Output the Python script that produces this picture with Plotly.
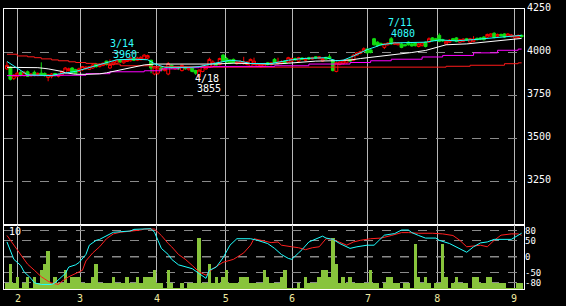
import plotly.graph_objects as go

# ---------------- data ----------------
day_idx = list(range(151))

opens = [3905,3915,3850,3862,3885,3868,3888,3865,3885,3866,
 3880,3878,3855,3860,3878,3862,3870,3880,3895,3910,
 3900,3890,3900,3905,3902,3910,3932,3918,3925,3950,
 3910,3930,3938,3955,3940,3948,3952,3965,3955,3958,
 3962,3968,3955,3875,3880,3912,3895,3875,3925,3905,
 3915,3895,3915,3900,3910,3895,3860,3890,3905,3915,
 3920,3935,3930,3985,3965,3955,3960,3935,3938,3935,
 3930,3920,3930,3920,3918,3920,3940,3930,3960,3935,
 3938,3950,3945,3950,3965,3950,3968,3955,3970,3962,
 3975,3965,3950,3972,3975,3955,3890,3930,3935,3940,
 3960,3955,3985,3995,4008,4020,4015,4080,4060,4052,
 4030,4045,4080,4048,4045,4050,4045,4060,4050,4055,
 4035,4040,4060,4060,4085,4080,4100,4075,4050,4060,
 4080,4085,4060,4065,4080,4060,4065,4082,4085,4090,
 4090,4095,4112,4095,4105,4108,4095,4092,4085,4088,
 4100]
highs = [3947,3920,3875,3888,3892,3893,3895,3880,3895,3885,
 3943,3885,3875,3880,3882,3878,3895,3915,3912,3915,
 3905,3912,3922,3920,3922,3933,3938,3936,3942,3952,
 3960,3950,3958,3960,3960,3965,3972,3970,3975,3978,
 3990,3988,3958,3920,3918,3918,3910,3945,3930,3920,
 3920,3930,3920,3915,3915,3900,3902,3925,3920,3970,
 3955,3940,3970,3992,3975,3960,3965,3950,3955,3975,
 3950,3965,3970,3940,3938,3940,3945,3945,3968,3970,
 3955,3955,3975,3970,3970,3975,3972,3970,3975,3975,
 3978,3978,3970,3975,3990,3960,3945,3950,3958,3962,
 3965,3990,4003,4010,4030,4025,4020,4085,4065,4058,
 4055,4060,4090,4062,4060,4055,4050,4065,4055,4060,
 4055,4060,4065,4088,4090,4085,4112,4080,4070,4078,
 4085,4090,4080,4082,4085,4085,4095,4088,4090,4095,
 4110,4112,4118,4110,4110,4112,4112,4108,4102,4105,
 4104]
lows = [3900,3838,3840,3855,3862,3860,3858,3860,3862,3862,
 3865,3860,3833,3850,3860,3855,3865,3875,3890,3880,
 3875,3885,3893,3900,3898,3905,3912,3914,3920,3925,
 3905,3925,3932,3940,3935,3945,3948,3950,3950,3955,
 3958,3962,3880,3868,3870,3890,3890,3868,3905,3900,
 3898,3890,3900,3895,3885,3870,3855,3885,3900,3910,
 3915,3925,3925,3945,3938,3935,3935,3930,3932,3930,
 3925,3915,3925,3915,3912,3915,3925,3925,3938,3930,
 3932,3935,3940,3945,3952,3945,3955,3950,3958,3958,
 3964,3960,3945,3958,3960,3890,3885,3925,3930,3935,
 3945,3950,3980,3990,4005,3995,3995,4040,4033,4040,
 4020,4040,4045,4044,4042,4025,4035,4040,4035,4035,
 4030,4035,4030,4055,4065,4065,4060,4062,4045,4055,
 4065,4060,4055,4060,4068,4055,4060,4070,4072,4070,
 4085,4090,4082,4090,4092,4085,4090,4088,4080,4085,
 4088]
closes = [3925,3845,3868,3880,3870,3885,3862,3875,3866,3878,
 3870,3866,3870,3875,3868,3872,3890,3910,3905,3885,
 3880,3905,3918,3915,3918,3928,3918,3932,3938,3930,
 3930,3945,3955,3945,3955,3960,3968,3955,3968,3972,
 3985,3982,3910,3915,3910,3898,3905,3935,3910,3915,
 3905,3925,3905,3910,3890,3880,3898,3920,3915,3960,
 3945,3928,3965,3950,3945,3940,3942,3945,3948,3945,
 3945,3960,3950,3935,3932,3935,3930,3940,3942,3945,
 3948,3940,3970,3965,3958,3970,3960,3965,3962,3970,
 3968,3975,3965,3962,3965,3895,3940,3945,3950,3958,
 3950,3985,3998,4005,4022,3998,4000,4045,4040,4045,
 4050,4055,4050,4058,4055,4030,4040,4045,4038,4040,
 4050,4055,4035,4080,4070,4070,4065,4068,4065,4072,
 4070,4065,4075,4078,4072,4080,4078,4075,4078,4075,
 4105,4108,4088,4105,4098,4090,4108,4102,4098,4100,
 4092]
volumes = [1,4,1,2,0.3,1,2,0.3,2,1,
 3,4,6,1,2,1,1,3,1,2,
 2,2,1,1,1,2,4,1,1,1,
 1,2,1,1,1,2,1,1,2,1,
 2,2,2,3,1,1,0.3,3,1,0.3,
 0.3,1,0.3,1,1,1,8,1,1,4,
 1,2,1,2,3,1,1,1,2,2,
 2,1,1,1,1,3,2,1,1,1,
 2,3,0.3,0.3,0.3,1,0.3,2,1,1,
 1,2,3,3,2,8,4,1,2,1,
 2,1,1,1,1,1,3,1,1,0.3,
 1,2,2,1,1,0.3,1,1,0.3,7,
 2,1,2,1,0.3,1,1,7,2,0.3,
 1,2,1,1,1,0.3,2,2,1,1,
 2,2,1,1,1,1,0.3,0.3,0.3,1,
 1]

# moving averages (read at sample days)
ma_cyan_idx = [0,2,4,6,13,15,20,25,28,32,37,41,43,46,53,56,60,62,65,68,71,77,79,82,86,90,93,96,98,101,103,105,107,109,113,122,126,131,136,142,147,150]
ma_cyan_val = [3948,3923,3895,3870,3866,3875,3890,3918,3938,3958,3961,3958,3935,3914,3914,3918,3935,3942,3955,3950,3936,3936,3945,3955,3965,3970,3970,3952,3955,3980,4000,4017,4030,4045,4056,4060,4073,4068,4075,4085,4097,4100]
ma_white_idx = [0,9,12,14,16,17,20,23,27,29,31,34,37,40,43,60,66,70,78,82,86,90,95,100,103,106,109,114,118,122,125,128,134,139,145,148,150]
ma_white_val = [3914,3912,3905,3898,3890,3882,3874,3873,3876,3882,3890,3905,3915,3928,3933,3933,3938,3936,3933,3938,3946,3950,3952,3956,3965,3972,3980,3988,4000,4012,4030,4045,4050,4060,4072,4078,4082]
ma_magenta_idx = [0,15,23,30,40,45,50,56,60,78,88,100,106,112,121,127,136,143,149,150]
ma_magenta_val = [3866,3868,3877,3888,3894,3905,3912,3915,3918,3923,3933,3942,3952,3961,3974,3983,3998,4013,4020,4020]
ma_red_idx = [0,3,6,8,10,13,15,18,20,23,26,33,42,60,128,135,145,149,150]
ma_red_val = [3990,3980,3975,3970,3963,3957,3952,3946,3942,3937,3933,3923,3918,3915,3920,3926,3935,3940,3940]

# oscillator lines (lower panel)
osc_cyan_idx = [0,1,2,4,5,7,8,10,13,14,15,17,18,20,21,23,24,26,27,29,30,31,36,37,42,43,44,45,47,48,50,52,54,56,58,59,61,63,65,67,71,73,76,78,80,82,83,85,86,88,90,92,93,95,97,99,100,102,105,107,109,110,113,115,117,118,120,122,125,126,129,132,134,136,138,140,142,147,148,150]
osc_cyan_val = [46,17,-8,-27,-47,-67,-81,-86,-86,-81,-72,-52,-32,-25,-18,7,36,51,54,66,71,76,80,85,87,76,51,26,7,-8,-25,-30,-37,-52,-67,-42,-32,-3,36,56,56,51,41,26,7,-5,-8,12,22,46,56,64,58,54,41,31,26,31,36,36,56,67,72,83,83,75,66,58,58,51,41,26,14,31,43,46,54,54,61,73]
osc_red_idx = [0,2,4,6,8,10,12,13,15,16,18,20,22,23,25,27,29,31,33,39,40,43,45,47,48,50,52,54,56,58,60,63,66,69,71,72,74,77,79,80,83,85,87,89,91,93,95,97,99,101,103,106,109,112,115,117,120,124,127,130,132,134,136,138,140,142,144,147,149,150]
osc_red_val = [66,36,7,-23,-42,-62,-76,-81,-86,-76,-62,-52,-42,-13,12,31,56,71,76,83,86,86,66,41,31,7,-8,-27,-47,-57,-37,-17,-8,12,36,56,51,44,46,36,31,28,22,28,31,56,54,46,36,46,51,56,58,66,75,75,73,73,71,66,51,31,33,36,31,51,67,71,71,67]

# axis ticks
month_tick_idx = [3.2, 21.3, 43.7, 63.8, 83.1, 105.2, 125.4, 147.8]
month_labels = ["2", "3", "4", "5", "6", "7", "8", "9"]
price_ticks = [3250, 3500, 3750, 4000, 4250]
osc_ticks = [-80, -50, 0, 50, 80]
osc_labels = ["-80", "-50", "0", "50", "80"]

# high/low markers
marks = [
    {"idx": 30, "price": 3960, "date": "3/14", "kind": "high", "color": "#33ffff"},
    {"idx": 56, "price": 3855, "date": "4/18", "kind": "low", "color": "#ffffff"},
    {"idx": 113, "price": 4080, "date": "7/11", "kind": "high", "color": "#33ffff"},
]

# ---------------- figure ----------------
FONT = "DejaVu Sans Mono"
fig = go.Figure()

# volume bars (lower panel, y2)
fig.add_trace(go.Bar(x=day_idx, y=volumes, xaxis="x2", yaxis="y2", width=1.0,
                     marker=dict(color="#88c43c", line=dict(width=0)),
                     showlegend=False, hoverinfo="skip"))
# oscillator lines (lower panel overlay, y3)
fig.add_trace(go.Scatter(x=osc_red_idx, y=osc_red_val, xaxis="x2", yaxis="y3",
                         mode="lines", line=dict(color="#ff2020", width=1),
                         showlegend=False))
fig.add_trace(go.Scatter(x=osc_cyan_idx, y=osc_cyan_val, xaxis="x2", yaxis="y3",
                         mode="lines", line=dict(color="#20ffff", width=1),
                         showlegend=False))

# moving averages
fig.add_trace(go.Scatter(x=ma_red_idx, y=ma_red_val, mode="lines",
                         line=dict(color="#ff1a1a", width=1, shape="hv"), showlegend=False))
fig.add_trace(go.Scatter(x=ma_magenta_idx, y=ma_magenta_val, mode="lines",
                         line=dict(color="#ff00ff", width=1, shape="hv"), showlegend=False))
fig.add_trace(go.Scatter(x=ma_white_idx, y=ma_white_val, mode="lines",
                         line=dict(color="#ffffff", width=1), showlegend=False))
fig.add_trace(go.Scatter(x=ma_cyan_idx, y=ma_cyan_val, mode="lines",
                         line=dict(color="#20ffff", width=1), showlegend=False))

# candles
fig.add_trace(go.Candlestick(
    x=day_idx, open=opens, high=highs, low=lows, close=closes,
    increasing=dict(line=dict(color="#ff0000", width=1), fillcolor="#000000"),
    decreasing=dict(line=dict(color="#11dd11", width=1), fillcolor="#11dd11"),
    whiskerwidth=0, showlegend=False))

# annotations for high / low (date line and price line)
for m in marks:
    if m["kind"] == "high":
        rows = [(m["date"], 16, 0), (str(m["price"]), 5, 3)]
    else:
        rows = [(m["date"], -1, -4), (str(m["price"]), -11, -2)]
    base_dx = -7 if m["date"] == "7/11" else 0
    for text, dy, dx in rows:
        fig.add_annotation(x=m["idx"], y=m["price"], text=text, showarrow=False,
                           xanchor="left", yanchor="middle", align="left",
                           xshift=dx + base_dx - 1, yshift=dy, borderpad=0,
                           font=dict(family=FONT, size=10, color=m["color"]))

# "10" volume scale label
fig.add_annotation(xref="x2 domain", yref="y2 domain", x=0.008, y=0.99,
                   text="10", showarrow=False, xanchor="left", yanchor="top",
                   borderpad=0, font=dict(family=FONT, size=10, color="#ffffff"))

# zero line of oscillator
fig.add_shape(type="line", xref="x2 domain", yref="y3", x0=0, x1=1, y0=0, y1=0,
              line=dict(color="#ffffff", width=1, dash="dash"), layer="below")

split = 0.2302
axis_common = dict(showline=True, linecolor="#ffffff", linewidth=1, mirror=True,
                   zeroline=False, ticks="")
fig.update_layout(
    width=566, height=306, autosize=False,
    margin=dict(l=4, r=42, t=2, b=13),
    paper_bgcolor="#000000", plot_bgcolor="#000000",
    showlegend=False, bargap=0.0, boxgap=0.1, boxgroupgap=0.05,
    xaxis=dict(domain=[0, 1], anchor="y", range=[-0.87, 150.7],
               tickvals=month_tick_idx, showticklabels=False,
               showgrid=True, gridcolor="#b8b8b8", gridwidth=1,
               rangeslider=dict(visible=False), **axis_common),
    xaxis2=dict(domain=[0, 1], anchor="y2", range=[-0.87, 150.7], matches="x",
                tickvals=month_tick_idx, ticktext=month_labels,
                tickfont=dict(family=FONT, size=10, color="#f0eaa0"),
                showgrid=True, gridcolor="#b8b8b8", gridwidth=1, **axis_common),
    yaxis=dict(domain=[split, 1], anchor="x", side="right", range=[3000, 4253],
               tickvals=price_ticks, ticklabeloverflow="allow", ticklabelshift=-2,
               tickfont=dict(family=FONT, size=10, color="#ffffff"),
               showgrid=True, gridcolor="#8a8a8a", griddash="dash", gridwidth=1,
               **axis_common),
    yaxis2=dict(domain=[0, split], anchor="x2", range=[0, 10], showticklabels=False,
                showgrid=False, **axis_common),
    yaxis3=dict(domain=[0, split], anchor="x2", overlaying="y2", side="right",
                range=[-100, 100], tickvals=osc_ticks, ticktext=osc_labels,
                tickfont=dict(family=FONT, size=9, color="#ffffff"),
                showgrid=True, gridcolor="#8a8a8a", griddash="dash", gridwidth=1,
                showline=False, zeroline=False, ticks=""),
)

fig.write_html("out.html")
